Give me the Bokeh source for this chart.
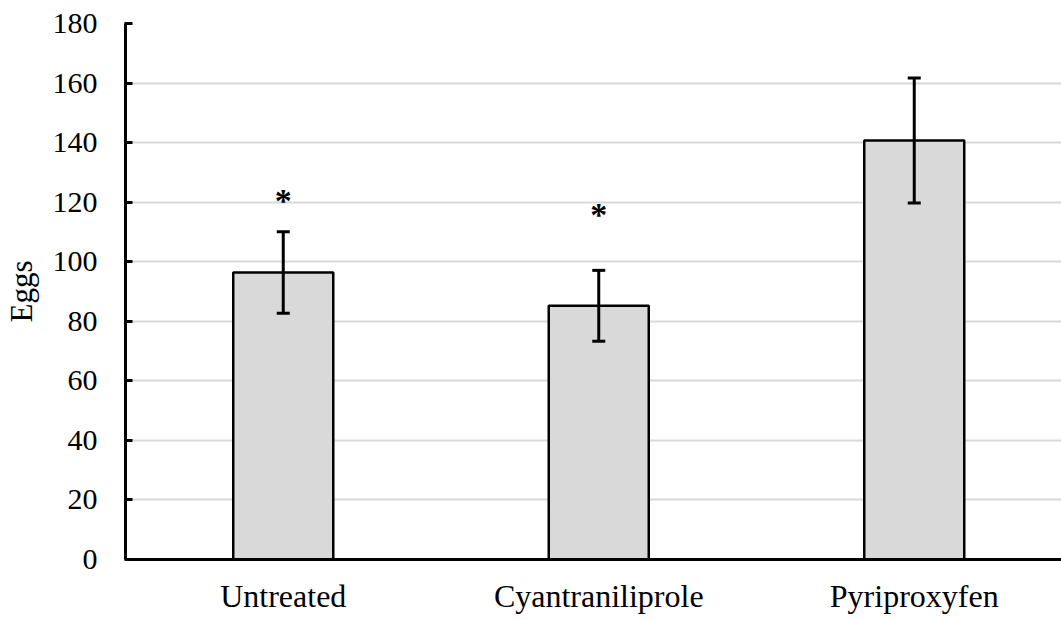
from bokeh.plotting import figure
from bokeh.models import ColumnDataSource, Whisker, Range1d, FixedTicker, TeeHead
from bokeh.core.properties import value
from bokeh.embed import file_html
from bokeh.resources import INLINE

categories = ["Untreated", "Cyantraniliprole", "Pyriproxyfen"]
eggs = [96.4, 85.2, 140.7]
err = [13.7, 11.9, 21.0]
sig_labels = ["*", "*", ""]
sig_y = [120.5, 115.8, 0]
y_ticks = [0, 20, 40, 60, 80, 100, 120, 140, 160, 180]

xs = list(range(len(categories)))
src = ColumnDataSource(dict(
    x=xs, top=eggs,
    upper=[v + e for v, e in zip(eggs, err)],
    lower=[v - e for v, e in zip(eggs, err)],
))
sig_src = ColumnDataSource(dict(
    x=[x for x, s in zip(xs, sig_labels) if s],
    y=[y for y, s in zip(sig_y, sig_labels) if s],
    t=[s for s in sig_labels if s],
))

FONT = "Liberation Serif"

p = figure(width=1061, height=620, output_backend="svg", toolbar_location=None,
           x_range=Range1d(-0.5, -0.5 + 936 / 315.5), y_range=Range1d(0, 180),
           min_border_left=125, min_border_right=0, min_border_top=23, min_border_bottom=61)
p.outline_line_color = None
p.background_fill_color = "white"
p.border_fill_color = "white"

p.vbar(x="x", top="top", bottom=0, width=0.317, source=src,
       fill_color="#d9d9d9", line_color="black", line_width=2.5)

w = Whisker(base="x", upper="upper", lower="lower", source=src,
            line_color="black", line_width=3, level="overlay",
            upper_head=TeeHead(size=13, line_width=3, line_color="black"),
            lower_head=TeeHead(size=13, line_width=3, line_color="black"))
p.add_layout(w)

p.text(x="x", y="y", text="t", source=sig_src, text_font=value(FONT),
       text_font_size="34px", text_font_style="bold", text_align="center",
       text_baseline="middle", text_color="black")

# grid
p.xgrid.grid_line_color = None
p.ygrid.grid_line_color = "#d9d9d9"
p.ygrid.grid_line_width = 2
p.ygrid.ticker = FixedTicker(ticks=y_ticks)

# y axis
p.yaxis.ticker = FixedTicker(ticks=y_ticks)
p.yaxis.axis_label = "Eggs"
p.yaxis.axis_label_text_font = FONT
p.yaxis.axis_label_text_font_size = "31px"
p.yaxis.axis_label_text_font_style = "normal"
p.yaxis.axis_label_text_color = "black"
p.yaxis.axis_label_standoff = 11
p.yaxis.major_label_text_font = FONT
p.yaxis.major_label_text_font_size = "30px"
p.yaxis.major_label_text_color = "black"
p.yaxis.major_label_standoff = 27
p.yaxis.axis_line_width = 3
p.yaxis.axis_line_color = "black"
p.yaxis.major_tick_line_width = 3
p.yaxis.major_tick_line_color = "black"
p.yaxis.major_tick_in = 7
p.yaxis.major_tick_out = 1
p.yaxis.minor_tick_line_color = None

# x axis
p.xaxis.ticker = FixedTicker(ticks=xs)
p.xaxis.major_label_overrides = {i: c for i, c in enumerate(categories)}
p.xaxis.major_label_text_font = FONT
p.xaxis.major_label_text_font_size = "32px"
p.xaxis.major_label_text_color = "black"
p.xaxis.major_label_standoff = 18
p.xaxis.axis_line_width = 3
p.xaxis.axis_line_color = "black"
p.xaxis.major_tick_line_color = None
p.xaxis.major_tick_in = 0
p.xaxis.major_tick_out = 0
p.xaxis.minor_tick_line_color = None

open("out.html", "w").write(file_html(p, INLINE))
